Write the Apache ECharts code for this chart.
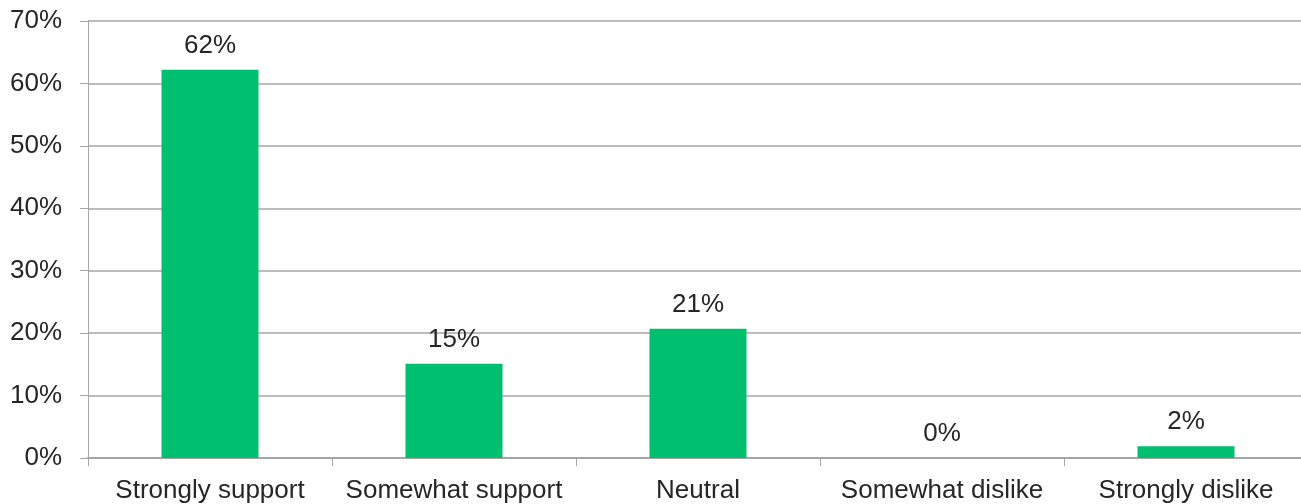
<!DOCTYPE html>
<html>
<head>
<meta charset="utf-8">
<script src="https://cdn.jsdelivr.net/npm/echarts@6/dist/echarts.min.js"></script>
<style>
  html, body { margin: 0; padding: 0; background: #fff; overflow: hidden; }
  #chart { width: 1308px; height: 504px; }
</style>
</head>
<body>
<div id="chart"></div>
<script>
  const categories = ['Strongly support', 'Somewhat support', 'Neutral', 'Somewhat dislike', 'Strongly dislike'];
  const shares = [62.2, 15.1, 20.7, 0, 1.9];
  const yTicks = [0, 10, 20, 30, 40, 50, 60, 70];

  // chart is a bit wider than the window: the plot runs off the right edge in the original
  const myChart = echarts.init(document.getElementById('chart'));
  myChart.setOption({
    backgroundColor: '#fff',
    animation: false,
    textStyle: { fontFamily: 'Liberation Sans, Arial, sans-serif' },
    grid: { left: 88, right: 0, top: 21, bottom: 46, containLabel: false },
    xAxis: {
      type: 'category',
      data: categories,
      axisLine: { lineStyle: { color: '#a6a6a6', width: 2 } },
      axisTick: { show: true, length: 8, lineStyle: { color: '#a6a6a6' } },
      axisLabel: { color: '#262626', fontSize: 26, margin: 20, interval: 0 }
    },
    yAxis: {
      type: 'value',
      min: yTicks[0],
      max: yTicks[yTicks.length - 1],
      interval: 10,
      axisLine: { show: true, lineStyle: { color: '#a6a6a6' } },
      axisTick: { show: true, length: 8, lineStyle: { color: '#a6a6a6' } },
      axisLabel: { color: '#262626', fontSize: 26, margin: 26, formatter: v => v + '%' },
      splitLine: { lineStyle: { color: '#a6a6a6', width: 1.5 } }
    },
    series: [{
      type: 'bar',
      data: shares,
      barWidth: 97,
      itemStyle: { color: '#00bf6f' },
      label: {
        show: true,
        position: 'top',
        distance: 11,
        color: '#262626',
        fontSize: 26,
        formatter: p => Math.round(p.value) + '%'
      }
    }]
  });
</script>
</body>
</html>
